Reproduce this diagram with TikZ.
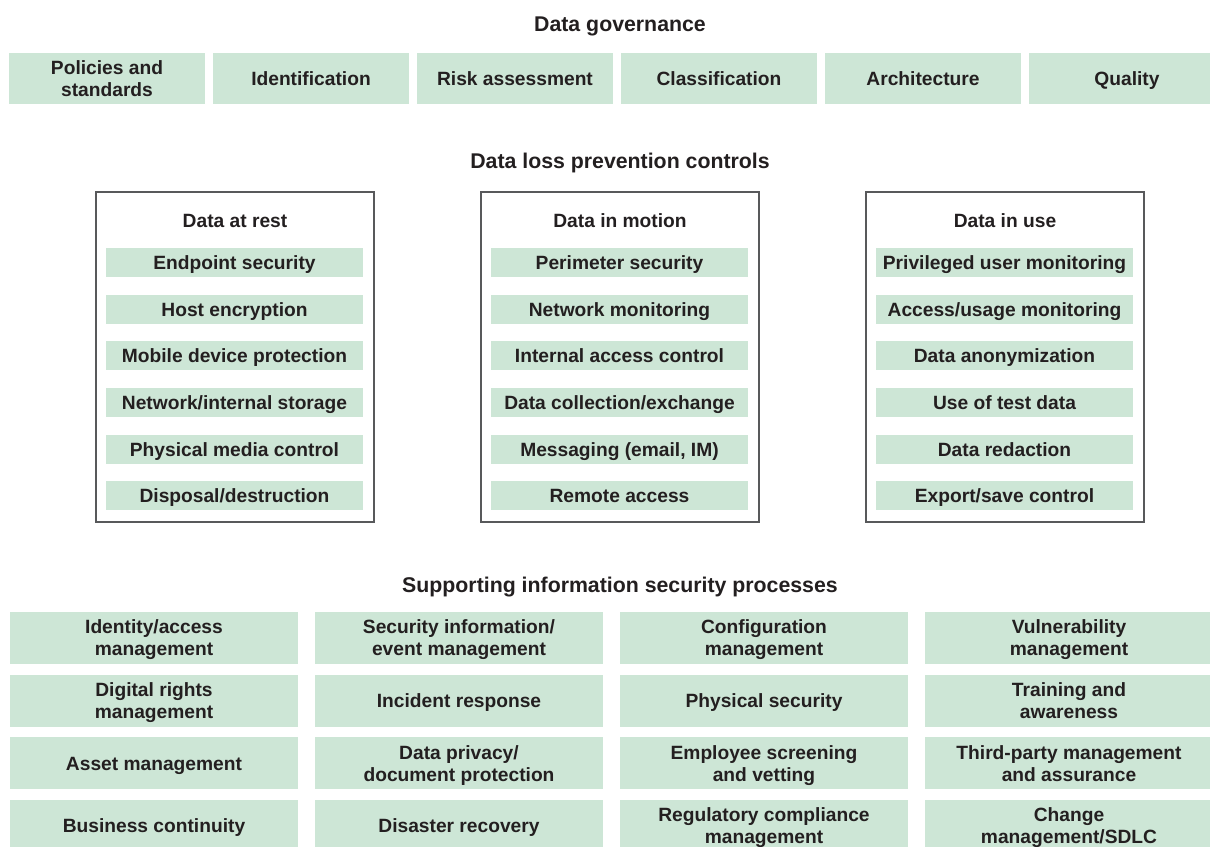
\documentclass[tikz,border=0pt]{standalone}
\usepackage{fontspec}
\setmainfont{Liberation Sans}
\definecolor{boxgreen}{RGB}{205,230,214}
\definecolor{inkdark}{RGB}{35,31,32}
\definecolor{framegray}{RGB}{88,89,91}
\begin{document}
\begin{tikzpicture}[x=1pt,y=-1pt,
  every node/.style={text=inkdark},
  heading/.style={font=\fontsize{21.3}{24}\selectfont\bfseries,
    text height=15.2pt,text depth=0pt,inner sep=0pt},
  gbox/.style={fill=boxgreen,inner sep=0pt,align=center,
    text height=13.75pt,text depth=0pt,
    font=\fontsize{19.2}{22}\selectfont\bfseries},
  twolines/.style={text height=35.75pt},
  govbox/.style={gbox,minimum width=196pt,minimum height=51pt},
  ctrlbox/.style={gbox,minimum width=257pt,minimum height=29pt},
  procbox/.style={gbox,minimum width=288pt,minimum height=52pt},
  panel/.style={draw=framegray,line width=1.4pt,fill=white,inner sep=0pt,
    minimum width=278pt,minimum height=330pt},
  paneltitle/.style={font=\fontsize{19.2}{22}\selectfont\bfseries,
    text height=13.75pt,text depth=0pt,inner sep=0pt}]
\clip (0,0) rectangle (1210,846);
\fill[white] (0,0) rectangle (1210,846);

% Data governance
\node[heading] (govtitle) at (620,23.5) {Data governance};
\node[govbox,twolines] (gov1) at (107,78.3) {Policies and\\standards};
\node[govbox] (gov2) at (311,78.3) {Identification};
\node[govbox] (gov3) at (515,78.3) {Risk assessment};
\node[govbox] (gov4) at (719,78.3) {Classification};
\node[govbox] (gov5) at (923,78.3) {Architecture};
\node[govbox] (gov6) at (1127,78.3) {Quality};

% Data loss prevention controls
\node[heading] (dlptitle) at (620,160.5) {Data loss prevention controls};

\node[panel] (rest) at (235,357) {};
\node[panel] (motion) at (620,357) {};
\node[panel] (use) at (1005,357) {};

\node[paneltitle] (resttitle) at (235,220.5) {Data at rest};
\node[paneltitle] (motiontitle) at (620,220.5) {Data in motion};
\node[paneltitle] (usetitle) at (1005,220.5) {Data in use};

\foreach \lbl [count=\i from 0] in {Endpoint security,Host encryption,Mobile device protection,Network/internal storage,Physical media control,Disposal/destruction}
  \node[ctrlbox] (rest\i) at (234.5,{262.5+46.67*\i}) {\lbl};
\foreach \lbl [count=\i from 0] in {Perimeter security,Network monitoring,Internal access control,Data collection/exchange,{Messaging (email, IM)},Remote access}
  \node[ctrlbox] (motion\i) at (619.5,{262.5+46.67*\i}) {\lbl};
\foreach \lbl [count=\i from 0] in {Privileged user monitoring,Access/usage monitoring,Data anonymization,Use of test data,Data redaction,Export/save control}
  \node[ctrlbox] (use\i) at (1004.5,{262.5+46.67*\i}) {\lbl};

% Supporting information security processes
\node[heading] (proctitle) at (620,584.5) {Supporting information security processes};

\node[procbox,twolines] (p11) at (154,638) {Identity/access\\management};
\node[procbox,twolines] (p12) at (459,638) {Security information/\\event management};
\node[procbox,twolines] (p13) at (764,638) {Configuration\\management};
\node[procbox,twolines] (p14) at (1069,638) {Vulnerability\\management};

\node[procbox,twolines] (p21) at (154,700.7) {Digital rights\\management};
\node[procbox] (p22) at (459,700.7) {Incident response};
\node[procbox] (p23) at (764,700.7) {Physical security};
\node[procbox,twolines] (p24) at (1069,700.7) {Training and\\awareness};

\node[procbox] (p31) at (154,763.3) {Asset management};
\node[procbox,twolines] (p32) at (459,763.3) {Data privacy/\\document protection};
\node[procbox,twolines] (p33) at (764,763.3) {Employee screening\\and vetting};
\node[procbox,twolines] (p34) at (1069,763.3) {Third-party management\\and assurance};

\node[procbox] (p41) at (154,826) {Business continuity};
\node[procbox] (p42) at (459,826) {Disaster recovery};
\node[procbox,twolines] (p43) at (764,826) {Regulatory compliance\\management};
\node[procbox,twolines] (p44) at (1069,826) {Change\\management/SDLC};
\end{tikzpicture}
\end{document}
